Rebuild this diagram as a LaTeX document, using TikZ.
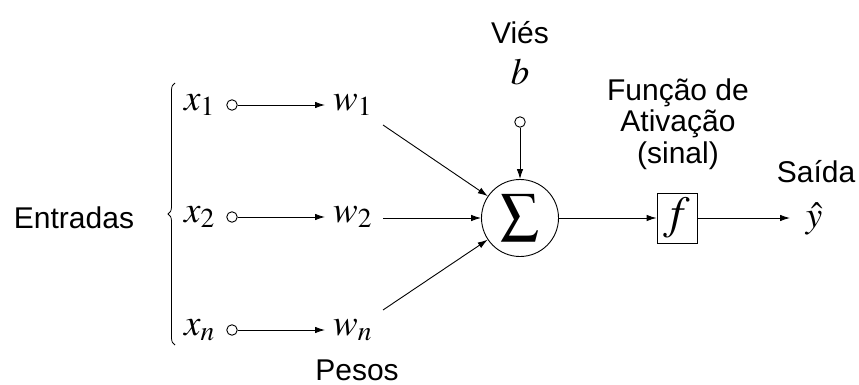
\documentclass[tikz,border=0pt]{standalone}
\usepackage{mathptmx}
\usepackage[no-math]{fontspec}
\setmainfont{Liberation Sans}
\usetikzlibrary{arrows.meta,decorations.pathreplacing}
\tikzset{
  lbl/.style={inner sep=0pt, font=\fontsize{30}{31.5}\selectfont, align=center},
  mth/.style={inner sep=0pt, font=\fontsize{37}{39}\selectfont},
  dot/.style={circle, draw, line width=0.9pt, minimum size=10.5pt, inner sep=0pt},
  arr/.style={line width=0.9pt, -{Latex[length=10pt,width=6.5pt]}},
  ln/.style={line width=0.9pt}
}
\begin{document}
\begin{tikzpicture}[x=1pt,y=-1pt]
\useasboundingbox (0,0) rectangle (859,385);
% labels
\node[lbl] (ent) at (74,218) {Entradas};
\node[lbl, anchor=base] (pes) at (357,380) {Pesos};
\node[lbl] (vies) at (520,33) {Viés};
\node[lbl] (fun) at (678,124) {Função de\\Ativação\\(sinal)};
\node[lbl] (sai) at (816,172) {Saída};
% brace
\coordinate (bb) at (175,345);
\coordinate (bt) at (175,83);
\draw[line width=0.8pt, decorate, decoration={brace, amplitude=7pt}] (bb) -- (bt);
% inputs
\node[mth, anchor=west] (x1) at (184,105) {$x_1$};
\node[mth, anchor=west] (x2) at (184,217) {$x_2$};
\node[mth, anchor=west] (xn) at (184,330) {$x_n$};
\node[dot] (c1) at (232,105) {};
\node[dot] (c2) at (232,217) {};
\node[dot] (cn) at (232,330) {};
\node[mth, anchor=west] (w1) at (333,105) {$w_1$};
\node[mth, anchor=west] (w2) at (333,217) {$w_2$};
\node[mth, anchor=west] (wn) at (333,330) {$w_n$};
\draw[arr, shorten >=8pt] (c1) -- (w1.west |- c1);
\draw[arr, shorten >=8pt] (c2) -- (w2.west |- c2);
\draw[arr, shorten >=8pt] (cn) -- (wn.west |- cn);
% sum
\node[circle, draw, line width=0.9pt, minimum size=77pt, inner sep=0pt] (sig) at (520,218) {};
\node[inner sep=0pt, font=\fontsize{38}{40}\selectfont] (sigsym) at (520,218) {$\displaystyle\sum$};
\coordinate (s1) at (383,125);
\coordinate (s2) at (383,218);
\coordinate (sn) at (383,310);
\draw[arr] (s1) -- (sig);
\draw[arr] (s2) -- (sig);
\draw[arr] (sn) -- (sig);
% bias
\node[mth] (b) at (520,72) {$b$};
\node[dot] (cb) at (520,122) {};
\draw[arr] (cb) -- (sig);
% activation
\node[draw, line width=0.9pt, minimum width=40pt, minimum height=50pt, inner sep=0pt] (f) at (677,218) {};
\node[inner sep=0pt, font=\fontsize{46}{48}\selectfont] (fsym) at (677,218) {$f$};
\draw[arr] (sig) -- (f);
\node[mth] (y) at (814,219) {$\hat{y}$};
\coordinate (ytip) at (790,218);
\draw[arr] (f) -- (ytip);
\end{tikzpicture}
\end{document}
